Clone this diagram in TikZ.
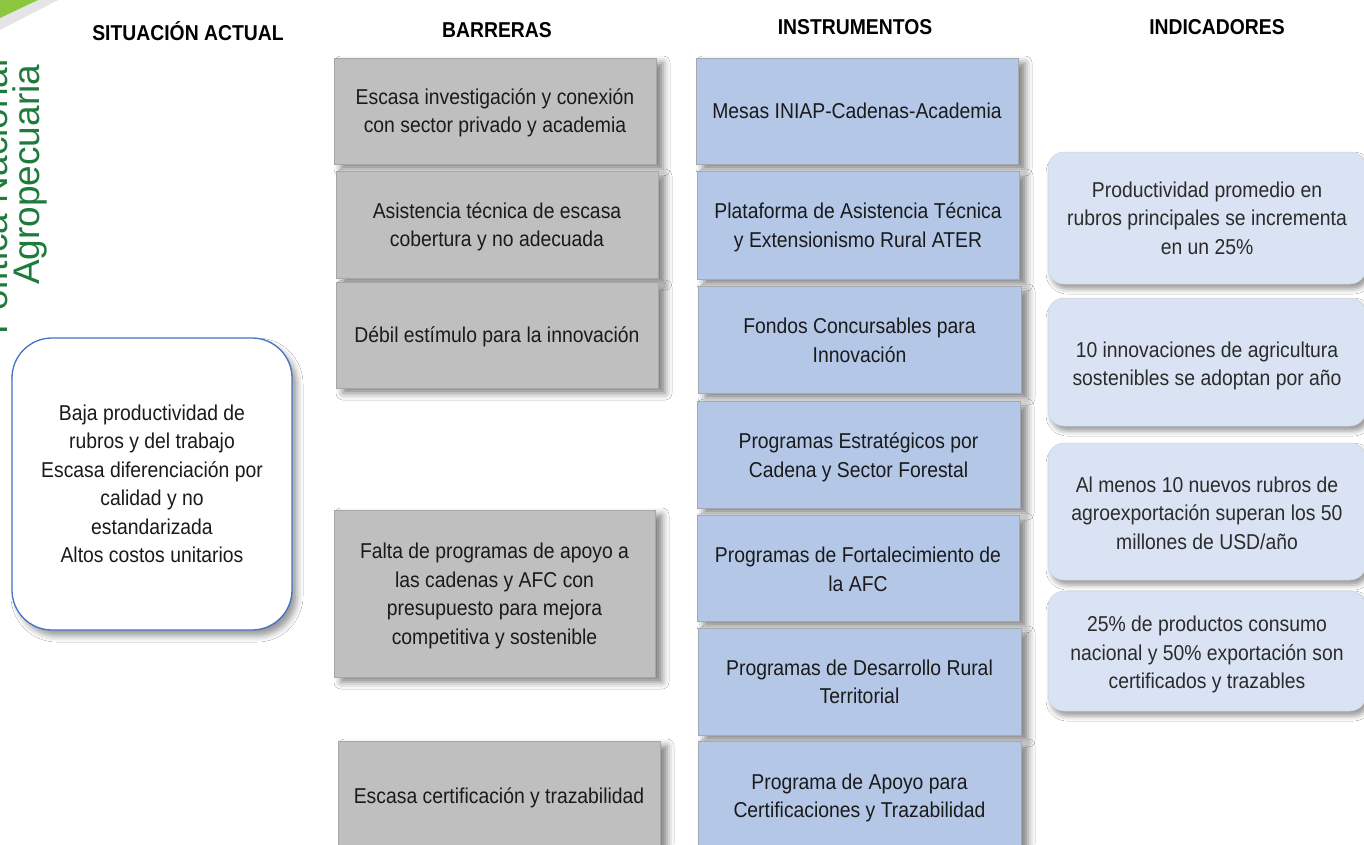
\documentclass[tikz,border=0pt]{standalone}
\usepackage{fontspec}
\setmainfont{Liberation Sans}[FakeStretch=0.9]
\newfontfamily\widefont{Liberation Sans}
\usetikzlibrary{shadows.blur}
\definecolor{barGray}{HTML}{BFBFBF}
\definecolor{barEdge}{HTML}{A6A6A6}
\definecolor{insBlue}{HTML}{B4C7E7}
\definecolor{insEdge}{HTML}{A3A9B3}
\definecolor{indBlue}{HTML}{DAE3F3}
\definecolor{sitEdge}{HTML}{4472C4}
\definecolor{agroGreen}{HTML}{1E7B3C}
\definecolor{leafGreen}{HTML}{8DC63F}
\definecolor{txt}{HTML}{1A1A1A}
\definecolor{txtInd}{HTML}{2B2B2B}
\tikzset{
  boxtext/.style={font=\fontsize{21.5}{28.5}\selectfont, text=txt, align=center, inner sep=0pt},
  barbox/.style={rectangle, draw=barEdge, line width=0.7pt, fill=barGray, inner sep=0pt,
    blur shadow={shadow xshift=7pt, shadow yshift=-5pt, shadow blur radius=7pt, shadow opacity=50}},
  insbox/.style={rectangle, draw=insEdge, line width=0.7pt, fill=insBlue, inner sep=0pt,
    blur shadow={shadow xshift=7pt, shadow yshift=-5pt, shadow blur radius=7pt, shadow opacity=50}},
  indbox/.style={rectangle, rounded corners=16pt, draw=indBlue!85!gray, line width=0.5pt, fill=indBlue, inner sep=0pt,
    blur shadow={shadow xshift=3pt, shadow yshift=-5pt, shadow blur radius=5pt, shadow opacity=40}},
  sitbox/.style={boxtext, rectangle, rounded corners=40pt, draw=sitEdge, line width=1.3pt, fill=white,
    blur shadow={shadow xshift=5pt, shadow yshift=-6pt, shadow blur radius=6pt, shadow opacity=40}},
  header/.style={font=\fontsize{21.5}{26}\selectfont\bfseries, text=black, inner sep=0pt},
  sidetext/.style={font=\widefont\fontsize{37}{40}\selectfont, text=agroGreen, rotate=90, inner sep=0pt}
}
\begin{document}
\begin{tikzpicture}[x=1pt,y=-1pt]
\useasboundingbox (0,0) rectangle (1364,844);
\clip (0,0) rectangle (1364,844);
\fill[white] (0,0) rectangle (1364,844);

% corner decoration
\fill[black!10] (38,0) -- (58,0) -- (0,30) -- (0,18) -- cycle;
\fill[leafGreen] (0,0) -- (38,0) -- (0,18) -- cycle;

% side title
\node[sidetext, anchor=base west] (pol) at (7,335) {Política Nacional};
\node[sidetext, anchor=base west] (agro) at (39,285) {Agropecuaria};

% headers
\node[header] (hsit) at (188,31) {SITUACIÓN ACTUAL};
\node[header] (hbar) at (497,30) {BARRERAS};
\node[header] (hins) at (855,27) {INSTRUMENTOS};
\node[header] (hind) at (1217,27) {INDICADORES};

% situation
\node[sitbox, minimum width=280pt, minimum height=292pt] (sit) at (152,484)
  {Baja productividad de\\rubros y del trabajo\\Escasa diferenciación por\\calidad y no\\estandarizada\\Altos costos unitarios};

% barriers
\node[barbox, minimum width=322pt, minimum height=106pt] (b1) at (495,111) {};
\node[boxtext] (b1t) at ([yshift=-2pt]b1.center) {Escasa investigación y conexión\\con sector privado y academia};
\node[barbox, minimum width=322pt, minimum height=107pt] (b2) at (497,224.5) {};
\node[boxtext] (b2t) at ([yshift=-2.5pt]b2.center) {Asistencia técnica de escasa\\cobertura y no adecuada};
\node[barbox, minimum width=322pt, minimum height=106pt] (b3) at (497,335) {};
\node[boxtext] (b3t) at ([yshift=-2pt]b3.center) {Débil estímulo para la innovación};
\node[barbox, minimum width=321pt, minimum height=167pt] (b4) at (494.5,593.5) {};
\node[boxtext] (b4t) at ([yshift=-2.5pt]b4.center) {Falta de programas de apoyo a\\las cadenas y AFC con\\presupuesto para mejora\\competitiva y sostenible};
\node[barbox, minimum width=322pt, minimum height=110pt] (b5) at (499,796) {};
\node[boxtext] (b5t) at ([yshift=-2pt]b5.center) {Escasa certificación y trazabilidad};

% instruments
\node[insbox, minimum width=322pt, minimum height=106pt] (i1) at (857,111) {};
\node[boxtext] (i1t) at (i1.center) {Mesas INIAP-Cadenas-Academia};
\node[insbox, minimum width=322pt, minimum height=108pt] (i2) at (858,225) {};
\node[boxtext] (i2t) at ([yshift=-2.5pt]i2.center) {Plataforma de Asistencia Técnica\\y Extensionismo Rural ATER};
\node[insbox, minimum width=323pt, minimum height=107pt] (i3) at (859.5,339.5) {};
\node[boxtext] (i3t) at ([yshift=-1pt]i3.center) {Fondos Concursables para\\Innovación};
\node[insbox, minimum width=323pt, minimum height=107pt] (i4) at (858.5,454.5) {};
\node[boxtext] (i4t) at ([yshift=-3pt]i4.center) {Programas Estratégicos por\\Cadena y Sector Forestal};
\node[insbox, minimum width=322pt, minimum height=106pt] (i5) at (858,568) {};
\node[boxtext] (i5t) at ([yshift=-1.5pt]i5.center) {Programas de Fortalecimiento de\\la AFC};
\node[insbox, minimum width=323pt, minimum height=107pt] (i6) at (859.5,681.5) {};
\node[boxtext] (i6t) at ([yshift=-0.5pt]i6.center) {Programas de Desarrollo Rural\\Territorial};
\node[insbox, minimum width=323pt, minimum height=110pt] (i7) at (859.5,796) {};
\node[boxtext] (i7t) at ([yshift=-2pt]i7.center) {Programa de Apoyo para\\Certificaciones y Trazabilidad};

% indicators
\node[indbox, minimum width=318pt, minimum height=132pt] (d1) at (1207,218) {};
\node[boxtext, text=txtInd] (d1t) at (d1.center) {Productividad promedio en\\rubros principales se incrementa\\en un 25\%};
\node[indbox, minimum width=318pt, minimum height=128pt] (d2) at (1207,362) {};
\node[boxtext, text=txtInd] (d2t) at ([yshift=-4pt]d2.center) {10 innovaciones de agricultura\\sostenibles se adoptan por año};
\node[indbox, minimum width=318pt, minimum height=137pt] (d3) at (1207,511.5) {};
\node[boxtext, text=txtInd] (d3t) at ([yshift=-1.5pt]d3.center) {Al menos 10 nuevos rubros de\\agroexportación superan los 50\\millones de USD/año};
\node[indbox, minimum width=318pt, minimum height=120pt] (d4) at (1207,651) {};
\node[boxtext, text=txtInd] (d4t) at ([yshift=-3.5pt]d4.center) {25\% de productos consumo\\nacional y 50\% exportación son\\certificados y trazables};
\end{tikzpicture}
\end{document}
